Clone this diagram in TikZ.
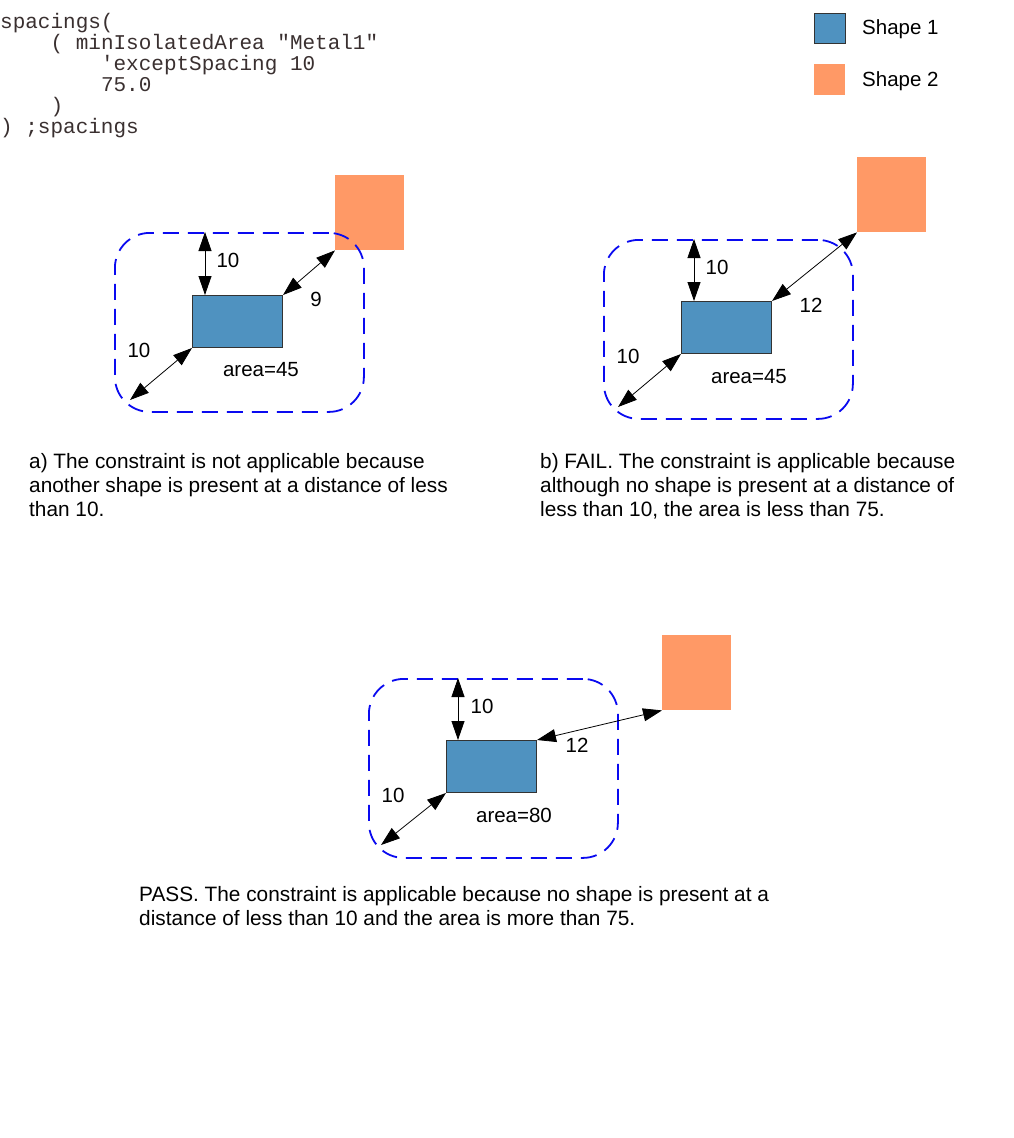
\documentclass[tikz,border=0pt]{standalone}
\usepackage{fontspec}
\setmainfont{Liberation Sans}
\setmonofont{Liberation Mono}
\usetikzlibrary{arrows.meta}
\definecolor{shapeblue}{HTML}{4F92C0}
\definecolor{shapeorange}{HTML}{FF9966}
\definecolor{zoneblue}{HTML}{0A0AF0}
\definecolor{codegray}{HTML}{3A3030}
\tikzset{
  shapeone/.style={draw=black!80, line width=1pt, fill=shapeblue, minimum width=90pt, minimum height=52pt, inner sep=0pt, anchor=north west},
  shapetwo/.style={fill=shapeorange, minimum width=69pt, minimum height=75pt, inner sep=0pt, anchor=north west},
  zone/.style={draw=zoneblue, line width=1.8pt, dash pattern=on 16pt off 9pt, rounded corners=35pt, minimum width=249pt, minimum height=179pt, inner sep=0pt, anchor=north west},
  dist/.style={{Triangle[length=19pt,width=13pt]}-{Triangle[length=19pt,width=13pt]}, line width=0.8pt},
  lbl/.style={font=\fontsize{20.5}{24}\selectfont},
  caption/.style={font=\fontsize{20.8}{24}\selectfont, align=left, anchor=north west, inner sep=0pt},
  code/.style={font=\ttfamily\fontsize{21}{21}\selectfont, text=codegray, anchor=base west, inner sep=0pt}
}
\begin{document}
\begin{tikzpicture}[x=1pt, y=-1pt]
  \fill [white] (0,0) rectangle (1013,1138);
  \useasboundingbox (0,0) rectangle (1013,1138);

  % rule text
  \node [code] (code1) at (0,28) {spacings(};
  \node [code] (code2) at (50.4,49) {( minIsolatedArea "Metal1"};
  \node [code] (code3) at (100.8,70) {'exceptSpacing 10};
  \node [code] (code4) at (100.8,91) {75.0};
  \node [code] (code5) at (50.4,112) {)};
  \node [code] (code6) at (0,133) {) ;spacings};

  % legend
  \node [shapeone, minimum width=31pt, minimum height=30pt] (key1) at (814,13) {};
  \node [shapetwo, minimum width=31pt, minimum height=31pt] (key2) at (814,64) {};
  \node [lbl, anchor=west, inner sep=0pt] (keytext1) at (862,29) {Shape 1};
  \node [lbl, anchor=west, inner sep=0pt] (keytext2) at (862,81) {Shape 2};

  % a)
  \node [shapetwo] (oa) at (335,175) {};
  \node [shapeone] (ra) at (192,295) {};
  \node [zone] (za) at (114,232) {};
  \coordinate (ta) at ([xshift=13pt]ra.north west);
  \coordinate (ba) at ([shift={(-62,52)}]ra.south west);
  \draw [dist] (ta) -- (ta |- za.north);
  \draw [dist] (ra.north east) -- (oa.south west);
  \draw [dist] (ra.south west) -- (ba);
  \node [lbl] (la1) at (228,260) {10};
  \node [lbl] (la2) at (316,299) {9};
  \node [lbl] (la3) at (139,350) {10};
  \node [lbl] (areaa) at (261,370) {area=45};
  \node [caption] (capa) at (29,453) {a) The constraint is not applicable because\\another shape is present at a distance of less\\than 10.};

  % b)
  \node [shapetwo] (ob) at (857,157) {};
  \node [shapeone] (rb) at (681,301) {};
  \node [zone] (zb) at (603,239) {};
  \coordinate (tb) at ([xshift=13pt]rb.north west);
  \coordinate (bb) at ([shift={(-63,53)}]rb.south west);
  \draw [dist] (tb) -- (tb |- zb.north);
  \draw [dist] (rb.north east) -- (ob.south west);
  \draw [dist] (rb.south west) -- (bb);
  \node [lbl] (lb1) at (717,267) {10};
  \node [lbl] (lb2) at (811,305) {12};
  \node [lbl] (lb3) at (628,356) {10};
  \node [lbl] (areab) at (749,377) {area=45};
  \node [caption] (capb) at (540,453) {b) FAIL. The constraint is applicable because\\although no shape is present at a distance of\\less than 10, the area is less than 75.};

  % c)
  \node [shapetwo] (oc) at (662,635) {};
  \node [shapeone] (rc) at (446,740) {};
  \node [zone] (zc) at (368,678) {};
  \coordinate (tc) at ([xshift=12pt]rc.north west);
  \coordinate (bc) at ([shift={(-65,52)}]rc.south west);
  \draw [dist] (tc) -- (tc |- zc.north);
  \draw [dist] (rc.north east) -- (oc.south west);
  \draw [dist] (rc.south west) -- (bc);
  \node [lbl] (lc1) at (482,706) {10};
  \node [lbl] (lc2) at (577,745) {12};
  \node [lbl] (lc3) at (393,795) {10};
  \node [lbl] (areac) at (514,815) {area=80};
  \node [caption] (capc) at (139,886) {PASS. The constraint is applicable because no shape is present at a\\distance of less than 10 and the area is more than 75.};
\end{tikzpicture}
\end{document}
